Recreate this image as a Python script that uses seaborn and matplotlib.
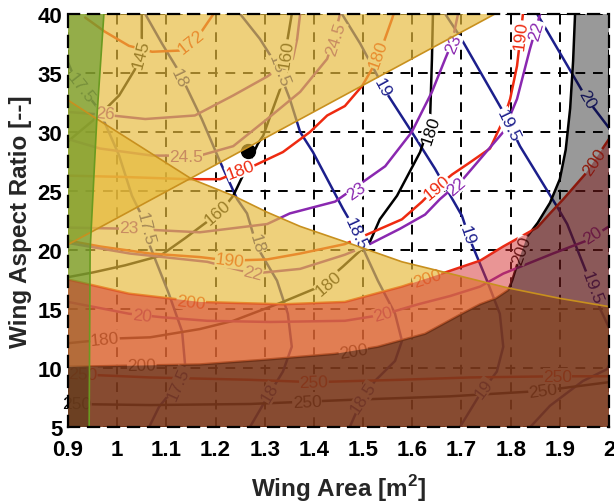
import numpy as np
import matplotlib
matplotlib.use("Agg")
import matplotlib.pyplot as plt
import seaborn as sns

# ---------------- axes ----------------
area_ticks = [0.9, 1.0, 1.1, 1.2, 1.3, 1.4, 1.5, 1.6, 1.7, 1.8, 1.9, 2.0]
area_tick_labels = ["0.9", "1", "1.1", "1.2", "1.3", "1.4", "1.5", "1.6", "1.7", "1.8", "1.9", "2"]
ar_ticks = [5, 10, 15, 20, 25, 30, 35, 40]
ar_tick_labels = ["5", "10", "15", "20", "25", "30", "35", "40"]

# ---------------- contour lines ----------------
# blue family
b175_x = [0.900, 0.914, 0.963, 1.004, 1.030, 1.050, 1.065, 1.105, 1.132, 1.138, 1.118, 1.085, 1.065]
b175_y = [35.9, 34.5, 31.9, 28.0, 24.6, 22.9, 20.5, 16.3, 13.1, 10.3, 8.4, 6.7, 5.0]
b18_x = [1.057, 1.091, 1.126, 1.172, 1.209, 1.244, 1.264, 1.284, 1.325, 1.347, 1.355, 1.337, 1.305, 1.270]
b18_y = [40, 37.5, 35.1, 31.1, 27.5, 24.3, 23.1, 20.3, 17.4, 14.6, 11.8, 9.7, 7.5, 5.0]
b185_x = [1.250, 1.290, 1.325, 1.351, 1.372, 1.398, 1.459, 1.477, 1.498, 1.530, 1.565, 1.579, 1.565, 1.524, 1.494, 1.473]
b185_y = [40, 37.9, 35.6, 32.8, 30.0, 28.3, 23.5, 22.2, 20.3, 17.4, 14.6, 12.3, 10.6, 8.9, 7.0, 5.0]
b19_x = [1.457, 1.494, 1.530, 1.551, 1.599, 1.646, 1.701, 1.717, 1.752, 1.778, 1.785, 1.772, 1.738, 1.697]
b19_y = [40, 37.5, 34.7, 33.1, 30.0, 26.9, 22.9, 20.9, 17.4, 14.6, 11.8, 9.7, 7.8, 5.0]
b195_x = [1.667, 1.697, 1.785, 1.819, 1.894, 1.915, 1.955, 1.982, 2.005, 2.010, 1.996, 1.947, 1.880, 1.840]
b195_y = [40, 38.1, 31.7, 28.8, 23.7, 22.2, 18.0, 15.0, 13.0, 11.0, 9.9, 8.9, 6.8, 5.0]
b20_x = [1.854, 1.955, 2.010]
b20_y = [40, 32.8, 29.8]
blue_labels = [(0.925, 33.8, "17.5"), (1.057, 21.8, "17.5"), (1.125, 8.7, "17.5"),
               (1.126, 34.6, "18"), (1.284, 20.6, "18"), (1.31, 7.9, "18"),
               (1.328, 35.2, "18.5"), (1.485, 21.4, "18.5"), (1.50, 7.5, "18.5"),
               (1.538, 33.8, "19"), (1.712, 21.3, "19"), (1.745, 8.3, "19"),
               (1.795, 30.6, "19.5"), (1.966, 16.8, "19.5"),
               (1.955, 32.8, "20")]

# black family
k145_x = [1.050, 1.050, 1.036, 1.004, 0.963, 0.914, 0.900]
k145_y = [40, 37.5, 35.3, 33.1, 31.4, 29.7, 29.2]
k160_x = [1.355, 1.345, 1.337, 1.331, 1.317, 1.297, 1.286, 1.260, 1.236, 1.219, 1.183, 1.138, 1.087, 1.016, 0.951, 0.900]
k160_y = [40, 37.5, 35.3, 33.6, 32.0, 29.7, 29.0, 26.7, 24.6, 23.7, 22.4, 21.0, 19.5, 18.7, 18.1, 17.7]
k180_x = [1.642, 1.640, 1.636, 1.616, 1.569, 1.534, 1.514, 1.459, 1.412, 1.337, 1.236, 1.168, 1.067, 0.996, 0.900]
k180_y = [40, 36.2, 30.8, 28.3, 24.6, 22.6, 20.7, 18.6, 16.9, 15.6, 14.0, 13.3, 12.6, 12.5, 12.1]
k200_x = [1.931, 1.927, 1.921, 1.912, 1.900, 1.880, 1.855, 1.833, 1.815, 1.803, 1.795, 1.770, 1.738, 1.701, 1.626, 1.530, 1.443, 1.300, 1.168, 0.900]
k200_y = [40, 36, 32, 28.5, 26, 24, 22.3, 21.1, 19.0, 17.4, 16.6, 15.9, 15.4, 14.6, 12.9, 11.8, 11.2, 10.7, 10.3, 10.1]
k250_x = [0.900, 1.067, 1.270, 1.473, 1.677, 1.860, 2.000]
k250_y = [6.95, 6.86, 6.95, 7.3, 7.6, 8.05, 8.8]
black_labels = [(1.048, 36.6, "145"), (1.343, 36.6, "160"), (1.205, 23.2, "160"),
                (1.637, 30.2, "180"), (1.43, 17.2, "180"), (0.975, 12.45, "180"),
                (1.822, 20.0, "200"), (1.48, 11.45, "200"), (1.05, 10.2, "200"),
                (0.918, 6.95, "250"), (1.386, 7.1, "250"), (1.866, 8.1, "250")]

# red family
r172_x = [0.935, 0.975, 1.024, 1.071, 1.126, 1.168, 1.199]
r172_y = [39.7, 38.5, 37.3, 36.8, 36.9, 38.3, 40.2]
r180_x = [0.900, 1.006, 1.146, 1.209, 1.244, 1.276, 1.337, 1.392, 1.427, 1.463, 1.498, 1.530, 1.559, 1.562]
r180_y = [26.3, 26.2, 26.0, 26.0, 26.6, 27.1, 28.3, 30.0, 31.4, 32.2, 33.9, 36.2, 39.6, 40]
r190_x = [0.900, 0.965, 1.067, 1.168, 1.229, 1.305, 1.372, 1.463, 1.524, 1.579, 1.620, 1.646, 1.681, 1.713, 1.758, 1.785, 1.799, 1.813, 1.821, 1.825]
r190_y = [20.8, 20.3, 19.7, 19.4, 19.1, 19.2, 19.7, 20.5, 21.6, 22.6, 24.1, 25.2, 26.4, 27.3, 28.6, 31.0, 32.8, 35.6, 38.5, 40]
r200_x = [0.900, 1.024, 1.168, 1.337, 1.463, 1.579, 1.667, 1.738, 1.785, 1.854, 1.880, 1.907, 1.951, 2.000]
r200_y = [17.5, 16.3, 15.6, 15.4, 15.6, 16.9, 18.1, 19.1, 20.3, 21.9, 23.1, 24.3, 26.4, 29.4]
r250_x = [0.900, 1.067, 1.270, 1.398, 1.575, 1.717, 1.894, 2.000]
r250_y = [9.5, 9.2, 9.0, 8.8, 9.0, 9.2, 9.3, 9.3]
red_labels = [(1.15, 37.7, "172"), (1.25, 26.8, "180"), (1.53, 36.6, "180"),
              (1.229, 19.1, "190"), (1.650, 25.3, "190"), (1.82, 38.2, "190"),
              (1.15, 15.55, "200"), (1.63, 17.6, "200"), (1.97, 27.5, "200"),
              (0.93, 9.45, "250"), (1.40, 8.8, "250"), (1.895, 9.3, "250")]

# purple family
p26_x = [0.900, 0.989, 1.057, 1.158, 1.236, 1.305, 1.357, 1.366, 1.372]
p26_y = [31.7, 31.4, 31.1, 31.4, 33.1, 34.7, 36.2, 37.9, 40]
p245_x = [0.900, 0.965, 1.071, 1.168, 1.236, 1.305, 1.372, 1.427, 1.443, 1.453]
p245_y = [29.4, 28.6, 28.0, 28.0, 28.8, 31.1, 33.4, 36.2, 38.3, 40]
p23_x = [0.900, 1.024, 1.168, 1.305, 1.351, 1.443, 1.545, 1.599, 1.640, 1.667, 1.681, 1.693]
p23_y = [21.9, 21.8, 21.5, 22.2, 23.1, 24.1, 27.1, 30.0, 33.4, 36.2, 37.6, 40]
p22_x = [0.900, 1.026, 1.183, 1.276, 1.372, 1.463, 1.504, 1.575, 1.626, 1.656, 1.703, 1.785, 1.813, 1.839, 1.860]
p22_y = [20.6, 19.7, 19.0, 18.0, 18.4, 19.6, 20.3, 21.8, 23.0, 24.3, 26.0, 30.0, 32.8, 37.0, 40]
p20_x = [0.900, 1.024, 1.091, 1.183, 1.311, 1.463, 1.538, 1.612, 1.677, 1.738, 1.785, 1.886, 1.955, 2.000]
p20_y = [15.6, 14.6, 14.3, 14.0, 13.9, 14.0, 14.5, 15.4, 16.1, 16.9, 18.0, 19.7, 20.8, 22.0]
purple_labels = [(0.975, 31.55, "26"), (1.14, 27.95, "24.5"), (1.445, 37.9, "24.5"),
                 (1.024, 21.85, "23"), (1.487, 25.0, "23"), (1.684, 37.5, "23"),
                 (1.276, 18.05, "22"), (1.69, 25.4, "22"), (1.852, 38.6, "22"),
                 (1.05, 14.45, "20"), (1.54, 14.55, "20"), (1.968, 21.3, "20")]

# ---------------- constraint region boundaries ----------------
green_edge_x = [0.973, 0.959, 0.945, 0.943]
green_edge_y = [40, 31.4, 20.0, 5.0]
yellow_a_edge_x = [0.900, 1.768]
yellow_a_edge_y = [20.46, 40.0]
yellow_b_edge_x = [0.900, 0.959, 1.152, 1.236, 1.305, 1.372, 1.463, 1.579, 1.667, 1.793, 1.900, 2.000]
yellow_b_edge_y = [32.7, 31.1, 26.0, 24.6, 23.2, 22.0, 20.7, 19.0, 18.1, 16.8, 15.9, 15.2]

design_x = [1.266]
design_y = [28.4]

# ---------------- figure ----------------
sns.set_theme(style="white")
plt.rcParams["font.family"] = ["Liberation Sans", "DejaVu Sans"]
plt.rcParams["mathtext.fontset"] = "custom"
plt.rcParams["mathtext.rm"] = "Liberation Sans"
plt.rcParams["mathtext.bf"] = "Liberation Sans:bold"

fig = plt.figure(figsize=(6.14, 5.02), dpi=100)
ax = fig.add_axes([68 / 614, 1 - 428 / 502, 541 / 614, 413 / 502])
ax.set_xlim(0.9, 2.0)
ax.set_ylim(5, 40)

BLUE = "#1c1f8c"
BLACK = "#000000"
RED = "#ee2a10"
PURPLE = "#8a28b0"

families = [
    (BLUE, [(b175_x, b175_y), (b18_x, b18_y), (b185_x, b185_y), (b19_x, b19_y), (b195_x, b195_y), (b20_x, b20_y)], blue_labels),
    (BLACK, [(k145_x, k145_y), (k160_x, k160_y), (k180_x, k180_y), (k200_x, k200_y), (k250_x, k250_y)], black_labels),
    (RED, [(r172_x, r172_y), (r180_x, r180_y), (r190_x, r190_y), (r200_x, r200_y), (r250_x, r250_y)], red_labels),
    (PURPLE, [(p26_x, p26_y), (p245_x, p245_y), (p23_x, p23_y), (p22_x, p22_y), (p20_x, p20_y)], purple_labels),
]

for color, lines, _ in families:
    for xs, ys in lines:
        sns.lineplot(x=xs, y=ys, sort=False, estimator=None, color=color,
                     linewidth=1.8, ax=ax, zorder=2)

ax.set_xlim(0.9, 2.0)
ax.set_ylim(5, 40)


def put_label(xl, yl, text, color, lines):
    q = ax.transData.transform((xl, yl))
    best = None
    for xs, ys in lines:
        P = ax.transData.transform(np.column_stack([xs, ys]))
        for i in range(len(P) - 1):
            a, b = P[i], P[i + 1]
            d = b - a
            t = np.clip(np.dot(q - a, d) / max(np.dot(d, d), 1e-9), 0, 1)
            dist = np.linalg.norm(a + t * d - q)
            if best is None or dist < best[0]:
                best = (dist, d)
    ang = np.degrees(np.arctan2(best[1][1], best[1][0]))
    if ang > 90:
        ang -= 180
    if ang <= -90:
        ang += 180
    ax.text(xl, yl, text, rotation=ang, rotation_mode="anchor", ha="center", va="center",
            color=color, fontsize=12.5, zorder=2.5,
            bbox=dict(facecolor="white", edgecolor="none", pad=0.2))


for color, lines, labels in families:
    for xl, yl, t in labels:
        put_label(xl, yl, t, color, lines)

# design point
ax.plot(design_x, design_y, "o", color="black", markersize=10, zorder=2.6)

# ---------------- shaded regions (semi-transparent, on top) ----------------
YEL = (230 / 255, 186 / 255, 60 / 255)
ax.fill([0.9] + yellow_a_edge_x + [0.9], [yellow_a_edge_y[0]] + yellow_a_edge_y + [40],
        color=YEL, alpha=0.68, lw=0, zorder=3)
ax.fill(yellow_b_edge_x + [2.0, 0.9], yellow_b_edge_y + [5, 5],
        color=YEL, alpha=0.68, lw=0, zorder=3)
ax.fill([0.9] + green_edge_x + [0.9], [40] + green_edge_y + [5],
        color=(0.35, 0.59, 0.16), alpha=0.6, lw=0, zorder=3.1)
ax.fill(r200_x + [2.0, 0.9], r200_y + [5, 5],
        color=(213 / 255, 45 / 255, 45 / 255), alpha=0.5, lw=0, zorder=3.2)
ax.fill(k200_x + [0.9, 2.0, 2.0], k200_y + [5, 5, 40],
        color="black", alpha=0.4, lw=0, zorder=3.3)

for ex, ey in [(yellow_a_edge_x, yellow_a_edge_y), (yellow_b_edge_x, yellow_b_edge_y)]:
    ax.plot(ex, ey, color="#c8901e", lw=1.2, zorder=3.5)
ax.plot(green_edge_x, green_edge_y, color="#6a9a20", lw=1.2, zorder=3.5)

# ---------------- styling ----------------
ax.set_xticks(area_ticks)
ax.set_xticklabels(area_tick_labels, fontsize=16, fontweight="bold")
ax.set_yticks(ar_ticks)
ax.set_yticklabels(ar_tick_labels, fontsize=16, fontweight="bold")
ax.tick_params(axis="y", length=0, pad=4, colors="black")
ax.tick_params(axis="x", length=0, pad=9, colors="black")
ax.set_axisbelow(True)
ax.grid(True, color="black", linestyle=(0, (5, 4)), linewidth=1.4)
for s in ax.spines.values():
    s.set_linestyle((0, (5, 4)))
    s.set_linewidth(1.6)
    s.set_color("black")
    s.set_zorder(6)
ax.set_xlabel("Wing Area [m$^\\mathbf{2}$]", fontsize=17.5, fontweight="bold", labelpad=8)
ax.set_ylabel("Wing Aspect Ratio [--]", fontsize=17.5, fontweight="bold", labelpad=4)

fig.savefig("out.png", dpi=100)
